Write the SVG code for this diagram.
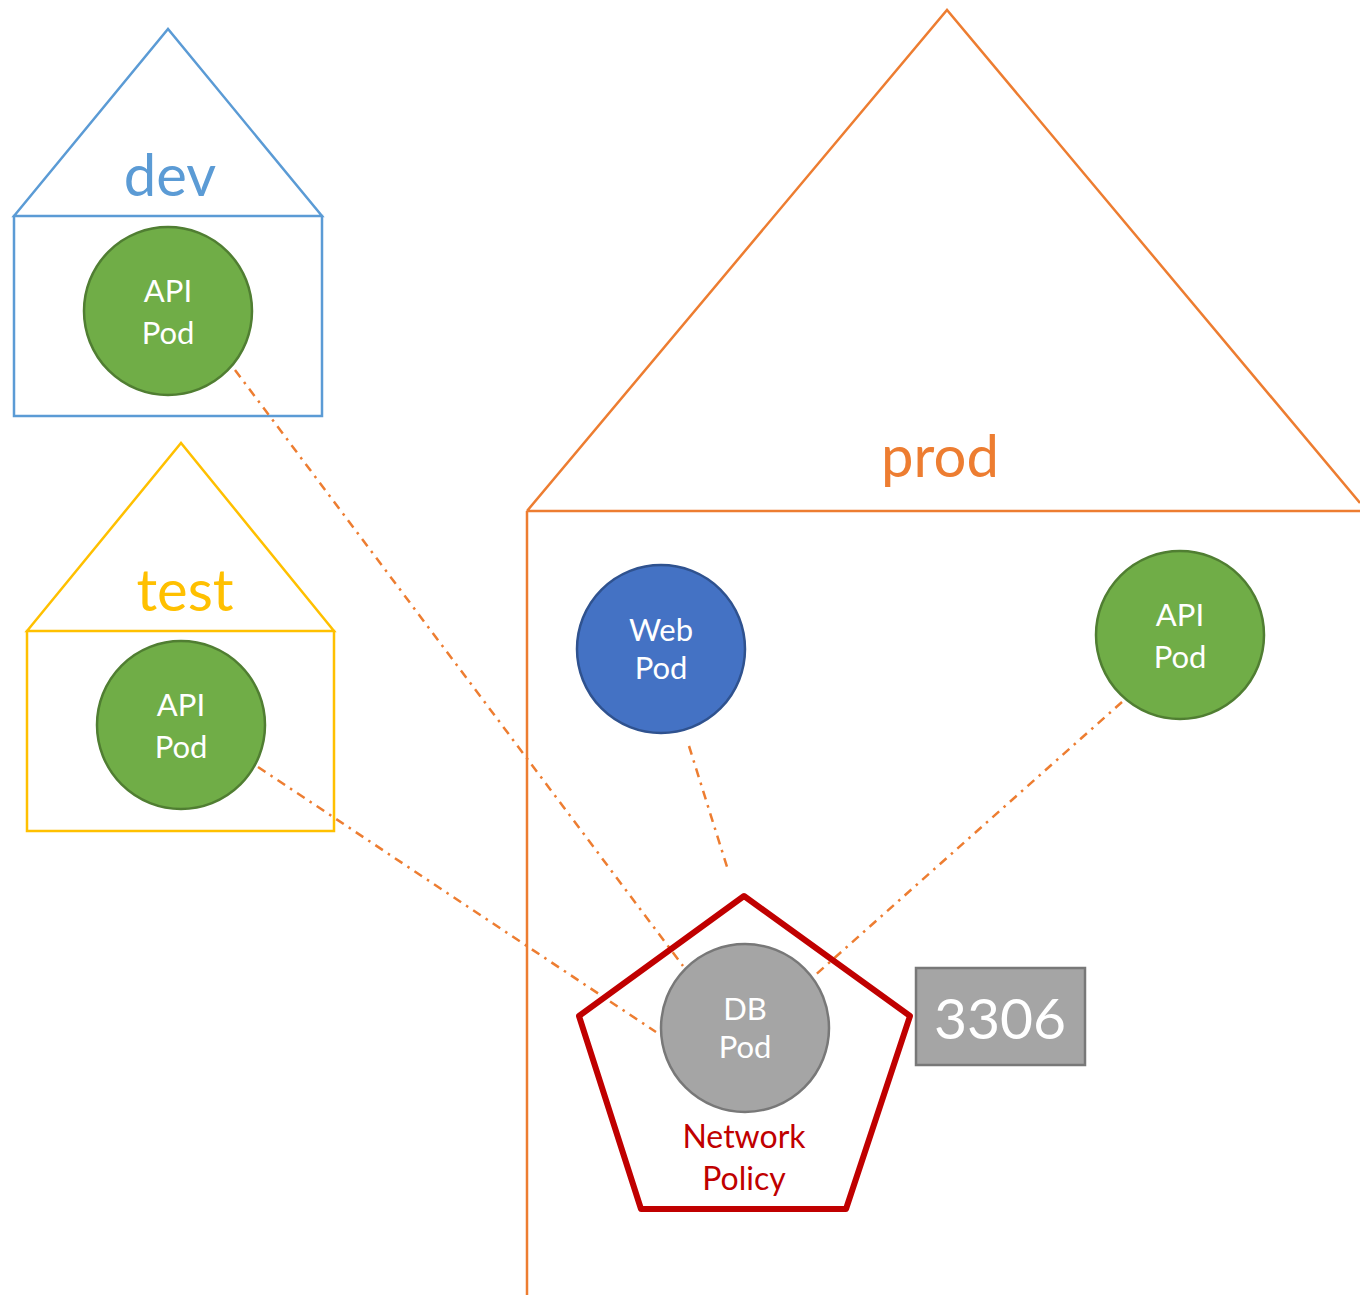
<svg xmlns="http://www.w3.org/2000/svg" width="1360" height="1295" viewBox="0 0 1360 1295">
<style>
text{font-family:Lato,"Open Sans","Liberation Sans",sans-serif;text-anchor:middle}
.ns{fill:none;stroke-width:2.5}
.pod{stroke-width:2.5}
.green{fill:#70AD47;stroke:#507E32}
.pt{fill:#fff;font-size:31px}
.conn{fill:none;stroke:#ED7D31;stroke-width:2.5;stroke-dasharray:9 6 2.5 6}
</style>
<rect width="1360" height="1295" fill="#fff"/>
<g id="ns-dev">
<path class="ns" stroke="#5B9BD5" d="M14 216 L168 29 L322 216 Z M14 216 H322 V416 H14 Z"/>
<text x="170" y="196" font-size="58" fill="#5B9BD5">dev</text>
</g>
<g id="ns-test">
<path class="ns" stroke="#FFC000" d="M27 631 L181 443 L334 631 Z M27 631 H334 V831 H27 Z"/>
<text x="185" y="611" font-size="58" fill="#FFC000">test</text>
</g>
<g id="ns-prod">
<path class="ns" stroke="#ED7D31" d="M527 511 L947 10 L1360 503 M527 511 H1362 M527 511 V1296"/>
<text x="940" y="477" font-size="58" fill="#ED7D31">prod</text>
</g>
<g id="connectors">
<line class="conn" x1="235" y1="370" x2="683" y2="966"/>
<line class="conn" x1="258" y1="767" x2="656" y2="1032"/>
<line class="conn" x1="689" y1="746" x2="728" y2="870"/>
<line class="conn" x1="1122" y1="702" x2="812" y2="978"/>
</g>
<g id="dev-api-pod">
<circle class="pod green" cx="168" cy="311" r="84"/>
<text class="pt" x="168" y="302">API</text>
<text class="pt" x="168" y="344">Pod</text>
</g>
<g id="test-api-pod">
<circle class="pod green" cx="181" cy="725" r="84"/>
<text class="pt" x="181" y="716">API</text>
<text class="pt" x="181" y="758">Pod</text>
</g>
<g id="web-pod">
<circle class="pod" fill="#4472C4" stroke="#2F528F" cx="661" cy="649" r="84"/>
<text class="pt" x="661" y="641" font-size="29">Web</text>
<text class="pt" x="661" y="679" font-size="29">Pod</text>
</g>
<g id="prod-api-pod">
<circle class="pod green" cx="1180" cy="635" r="84"/>
<text class="pt" x="1180" y="626">API</text>
<text class="pt" x="1180" y="668">Pod</text>
</g>
<g id="network-policy">
<polygon points="744,896 910,1016 846,1209 641,1209 579,1016" fill="none" stroke="#C00000" stroke-width="6" stroke-linejoin="round"/>
<text x="744" y="1148" font-size="32" fill="#C00000">Network</text>
<text x="744" y="1190" font-size="32" fill="#C00000">Policy</text>
</g>
<g id="db-pod">
<circle class="pod" fill="#A5A5A5" stroke="#787878" cx="745" cy="1028" r="84"/>
<text class="pt" x="745" y="1020" font-size="27">DB</text>
<text class="pt" x="745" y="1058" font-size="27">Pod</text>
</g>
<g id="port-3306">
<rect x="916" y="968" width="169" height="97" fill="#A5A5A5" stroke="#787878" stroke-width="2.5"/>
<text x="1000" y="1039" font-size="57" fill="#fff">3306</text>
</g>
</svg>
